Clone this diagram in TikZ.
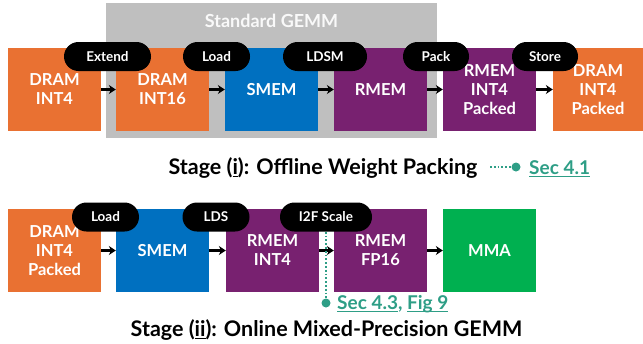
\documentclass[tikz,border=0pt]{standalone}
\usepackage{fontspec}
\setmainfont{Lato}
\usepackage{tikz}
\usetikzlibrary{arrows.meta}

\definecolor{dram}{HTML}{E97132}
\definecolor{smem}{HTML}{0070C0}
\definecolor{rmem}{HTML}{782170}
\definecolor{mma}{HTML}{00B050}
\definecolor{std}{HTML}{BFBFBF}
\definecolor{ref}{HTML}{2E9E86}

\newcommand{\ulk}[1]{\setbox0\hbox{#1}\rlap{\rule[-3pt]{\wd0}{1.4pt}}\box0}

\begin{document}
\begin{tikzpicture}[x=1pt, y=-1pt]

\tikzstyle{box} = [rectangle, minimum width=93pt, minimum height=83pt, inner sep=0pt, align=center, text=white, font=\fontsize{16.5}{19}\selectfont\bfseries]
\tikzstyle{op} = [rectangle, fill=black, rounded corners=14.5pt, minimum height=29pt, inner sep=0pt, text=white, font=\fontsize{13.5}{15}\selectfont\bfseries]
\tikzstyle{flow} = [line width=2.2pt, -{Stealth[length=7pt,width=9pt]}]
\tikzstyle{link} = [ref, line width=1.8pt, dotted]
\tikzstyle{dot} = [circle, fill=ref, inner sep=0pt, minimum size=9pt]
\tikzstyle{stagecap} = [anchor=base, inner sep=0pt, font=\fontsize{21.5}{24}\selectfont\bfseries]
\tikzstyle{sec} = [anchor=base west, inner sep=0pt, text=ref, font=\fontsize{19}{22}\selectfont\bfseries]

\useasboundingbox (0,0) rectangle (643,343);

% stage (i)
\node[rectangle, fill=std, minimum width=331pt, minimum height=135pt] (z) at (271.5,70.5) {};
\node[text=white!95!gray, font=\fontsize{18}{20}\selectfont\bfseries] (t) at (271.5,21) {Standard GEMM};

\node[box, fill=dram] (a) at (54.5,89.5) {DRAM\\INT4};
\node[box, fill=dram] (b) at (162.5,89.5) {DRAM\\INT16};
\node[box, fill=smem] (c) at (271.5,89.5) {SMEM};
\node[box, fill=rmem] (d) at (380.5,89.5) {RMEM};
\node[box, fill=rmem] (e) at (489.5,89.5) {RMEM\\INT4\\Packed};
\node[box, fill=dram, minimum width=90pt] (f) at (598,89.5) {DRAM\\INT4\\Packed};

\draw[flow] (a) -- (b);
\draw[flow] (b) -- (c);
\draw[flow] (c) -- (d);
\draw[flow] (d) -- (e);
\draw[flow] (e) -- (f);

\node[op, minimum width=87pt] (p1) at (107.5,56.5) {Extend};
\node[op, minimum width=67pt] (p2) at (216.5,56.5) {Load};
\node[op, minimum width=84pt] (p3) at (325,56.5) {LDSM};
\node[op, minimum width=66pt] (p4) at (436,56.5) {Pack};
\node[op, minimum width=66pt] (p5) at (545,56.5) {Store};

\node[stagecap] (s1) at (323,174) {Stage (\ulk{i}): Offline Weight Packing};
\coordinate (k0) at (490,167);
\node[dot] (k1) at (516,167) {};
\draw[link] (k0) -- (k1);
\node[sec] (r1) at (529,174) {\ulk{Sec 4.1}};

% stage (ii)
\node[box, fill=dram] (g) at (54.5,250.5) {DRAM\\INT4\\Packed};
\node[box, fill=smem] (h) at (162.5,250.5) {SMEM};
\node[box, fill=rmem] (i) at (272.5,250.5) {RMEM\\INT4};
\node[box, fill=rmem] (j) at (380.5,250.5) {RMEM\\FP16};
\node[box, fill=mma] (k) at (489.5,250.5) {MMA};

\draw[flow] (g) -- (h);
\draw[flow] (h) -- (i);
\draw[flow] (i) -- (j);
\draw[flow] (j) -- (k);

\node[op, minimum width=67pt] (q1) at (105.5,217) {Load};
\node[op, minimum width=67pt] (q2) at (216,217) {LDS};
\node[op, minimum width=92pt] (q3) at (326,217) {I2F Scale};

\node[dot] (k2) at (326,303) {};
\draw[link] (q3) -- (k2);
\node[sec] (r2) at (337,309) {\ulk{Sec 4.3}, \ulk{Fig 9}};

\node[stagecap] (s2) at (326.5,336) {Stage (\ulk{ii}): Online Mixed-Precision GEMM};

\end{tikzpicture}
\end{document}
